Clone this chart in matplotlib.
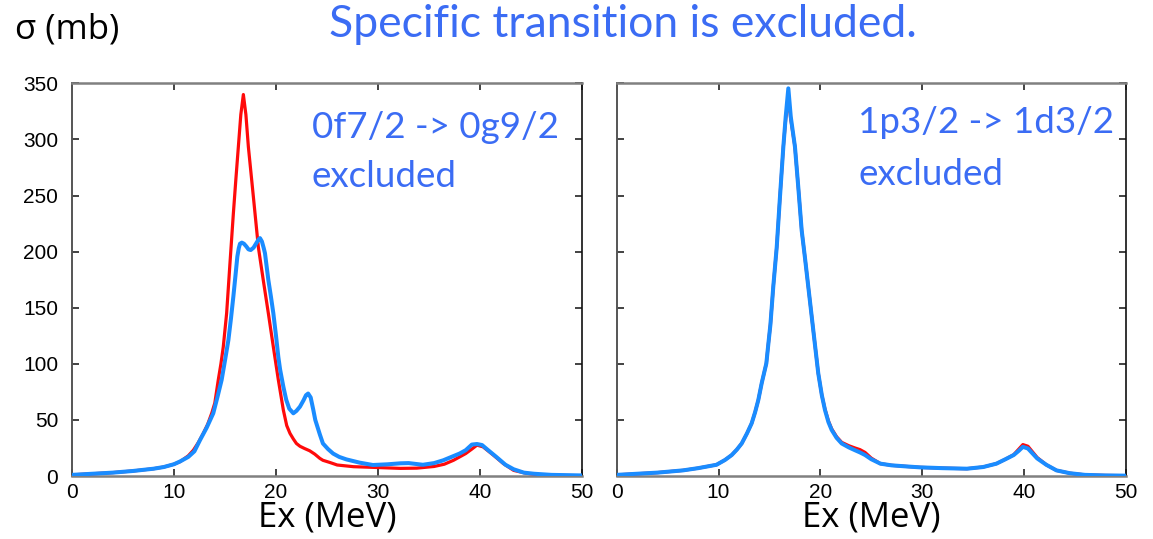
import matplotlib
matplotlib.use("Agg")
import matplotlib.pyplot as plt

# Excitation energy (MeV) and cross section (mb)
# Left panel: full calculation (red) vs. 0f7/2 -> 0g9/2 excluded (blue)
ex_full_l = [0, 2, 4, 6, 8, 9, 10, 10.6, 11.4, 11.9, 12.4, 12.87, 13.3, 13.7, 14.0,
             14.34, 14.6, 14.83, 15.16, 15.49, 15.82, 16.07, 16.31, 16.55, 16.8,
             17.05, 17.29, 17.78, 18.27, 18.75, 19.25, 19.74, 20.23, 20.72, 21.05,
             21.37, 21.7, 22.0, 22.35, 22.8, 23.3, 23.8, 24.3, 24.6, 25.3,
             26.0, 27.6, 29.5, 31, 32.2, 33.8, 35.5, 36.5, 37.4, 38.6,
             39.2, 39.7, 40.3, 41.3, 42.3, 43.3, 44.5, 46, 48, 50]
sig_full_l = [1, 2, 3, 4.5, 6.5, 8, 10.5, 12.8, 18, 23, 30, 38, 46, 56, 65,
              85.6, 100, 115, 145, 190, 234, 265, 293.5, 322, 340,
              322, 293.5, 249, 204, 174.7, 145, 115, 85.6, 58.8, 45,
              38, 33, 29, 26.5, 24.5, 22.5, 19.5, 15.7, 14, 12,
              9.8, 8.3, 7.7, 7.2, 6.8, 7, 8.5, 10.5, 14, 20,
              24, 27.5, 26, 18.7, 11, 5, 2.5, 1, 0.5, 0.3]

ex_excl_l = [0, 2, 4, 6, 8, 9, 10, 10.6, 11.4, 12.0, 12.55, 13.2, 13.85, 14.25, 14.67,
             15.0, 15.33, 15.58, 15.82, 16.02, 16.21, 16.35, 16.47, 16.65, 16.86,
             17.1, 17.3, 17.52, 17.8, 18.1, 18.3, 18.43, 18.62, 18.8, 18.92,
             19.25, 19.5, 19.74, 20.0, 20.23, 20.4, 20.72, 21.0, 21.3, 21.7,
             22.0, 22.35, 22.7, 22.94, 23.15, 23.4, 23.66, 23.85, 24.3, 24.6,
             25.1, 25.6, 26.2, 26.9, 28.2, 29.5, 30.9, 32.2, 33.0, 34.4,
             35.5, 36.4, 37.2, 38.0, 38.6, 39.2, 39.7, 40.2, 40.8, 41.6,
             42.5, 43.3, 44.3, 45.3, 47, 50]
sig_excl_l = [1, 2, 3, 4.5, 6.5, 8, 10.5, 13, 17, 22, 32, 43, 55.9, 70, 85.6,
              103, 121, 140, 160, 178, 195.5, 203, 207, 208, 207,
              204.5, 202, 201.4, 203.5, 208, 211, 212, 209, 203, 198.5,
              174.7, 160, 145, 125, 106, 95, 79.6, 68, 60, 55.9,
              58, 61.8, 67.5, 72, 73.5, 70, 58.8, 50, 37, 29,
              24, 20, 17, 14.8, 11.9, 9.8, 10.4, 11.3, 11.5, 10,
              11.5, 14, 17, 20, 23, 28, 28.5, 27.6, 23, 17,
              10, 6, 3, 2, 1, 0.5]

# Right panel: full calculation (red) vs. 1p3/2 -> 1d3/2 excluded (blue)
ex_r = [0, 2, 4, 6.5, 8, 9.8, 10.64, 11.3, 11.8, 12.28, 12.8, 13.26, 13.6, 13.91, 14.25,
        14.7, 14.9, 15.1, 15.38, 15.72, 16.04, 16.37, 16.6, 16.86, 17.1,
        17.51, 17.85, 18.17, 18.5, 18.82, 19.31, 19.8, 20.15, 20.46, 20.8,
        21.12, 21.6, 22.1, 22.8, 23.4, 23.9, 24.4, 25.0, 25.9, 27.0,
        28.5, 29.8, 32, 34.4, 36, 37.3, 38.2, 39.0, 39.5, 39.9,
        40.4, 41.3, 42.2, 43.2, 44.5, 46, 48, 50]
sig_full_r = [1, 2, 3, 5, 7, 10, 14.3, 18.7, 23.5, 29, 38, 47, 57, 67.7, 83,
              100.4, 118, 135, 168.7, 204, 249, 293.5, 318, 338, 318,
              293.5, 256, 219, 194, 168.7, 130, 91.5, 72, 59.5, 49,
              42, 35, 30, 27, 25, 23.5, 21, 16, 11, 9.5,
              8.5, 7.7, 7, 6.5, 8, 11, 15, 19, 24, 28,
              26.5, 16.5, 10, 5, 2.5, 1, 0.5, 0.3]
sig_excl_r = [1, 2, 3, 5, 7, 10, 14.3, 18.7, 23.5, 29, 38, 47, 57, 67.7, 83,
              100.4, 118, 135, 168.7, 204, 249, 293.5, 320, 345.5, 320,
              293.5, 256, 219, 194, 168.7, 130, 91.5, 72, 58.8, 48,
              41, 34, 29, 25.5, 23, 21, 18.7, 15, 11, 9.5,
              8.5, 7.7, 7, 6.5, 8, 11, 15, 18.7, 22.5, 26,
              24.5, 15.7, 10, 5, 2.5, 1, 0.5, 0.3]

x_ticks = [0, 10, 20, 30, 40, 50]
y_ticks = [0, 50, 100, 150, 200, 250, 300, 350]
panel_notes = [("0f7/2 -> 0g9/2", "excluded"), ("1p3/2 -> 1d3/2", "excluded")]
title_text = "Specific transition is excluded."
y_label = "σ (mb)"
x_label = "Ex (MeV)"

RED = "#ff0a0a"
BLUE = "#1a8cff"
TEXT_BLUE = "#3b6cf4"

W, H = 1153, 539
fig = plt.figure(figsize=(W / 100, H / 100), dpi=100)


def frac_box(x0, x1, ytop, ybot):
    return [x0 / W, (H - ybot) / H, (x1 - x0) / W, (ybot - ytop) / H]


ax_l = fig.add_axes(frac_box(72, 582, 83.3, 476))
ax_r = fig.add_axes(frac_box(616.7, 1125.7, 83.3, 476))

panels = [
    (ax_l, ex_full_l, sig_full_l, ex_excl_l, sig_excl_l, True),
    (ax_r, ex_r, sig_full_r, ex_r, sig_excl_r, False),
]

for ax, xf, yf, xe, ye, show_y in panels:
    ax.plot(xf, yf, color=RED, lw=2.3, solid_joinstyle="round", zorder=3)
    ax.plot(xe, ye, color=BLUE, lw=2.9, solid_joinstyle="round", zorder=4)
    ax.set_xlim(0, 50)
    ax.set_ylim(0, 350)
    ax.set_xticks(x_ticks)
    ax.set_yticks(y_ticks)
    ax.tick_params(axis="both", direction="in", length=5, width=1.2, color="#222222",
                   top=True, right=True, labelsize=15, labelcolor="black")
    ax.tick_params(axis="x", pad=5)
    ax.tick_params(axis="y", pad=10)
    for lab in ax.get_xticklabels() + ax.get_yticklabels():
        lab.set_fontfamily("Liberation Sans")
    if not show_y:
        ax.set_yticklabels([])
    for side in ("top", "bottom"):
        ax.spines[side].set_color("#808080")
        ax.spines[side].set_linewidth(1.8)
    ax.spines["left"].set_color("#555555")
    ax.spines["left"].set_linewidth(1.4)
    ax.spines["right"].set_color("#111111")
    ax.spines["right"].set_linewidth(1.2)

# x-axis titles under each panel
for ax in (ax_l, ax_r):
    bb = ax.get_position()
    fig.text(bb.x0 + bb.width / 2, (H - 526) / H, x_label, fontsize=25,
             family="Open Sans", ha="center", va="baseline")

# panel annotations
note_pos = [((311.7, 138.3), (311.7, 186.7)), ((858, 133), (858, 185))]
for (l1, l2), ((x1, y1), (x2, y2)) in zip(panel_notes, note_pos):
    fig.text(x1 / W, (H - y1) / H, l1, color=TEXT_BLUE, fontsize=26.5,
             family="Lato", ha="left", va="baseline")
    fig.text(x2 / W, (H - y2) / H, l2, color=TEXT_BLUE, fontsize=26.5,
             family="Lato", ha="left", va="baseline")

# header texts
fig.text(15 / W, (H - 39) / H, y_label, fontsize=25, family="Open Sans",
         ha="left", va="baseline")
fig.text(622.5 / W, (H - 37) / H, title_text, color=TEXT_BLUE, fontsize=32,
         family="Lato", ha="center", va="baseline")

fig.savefig("out.png", dpi=100, facecolor="white")
